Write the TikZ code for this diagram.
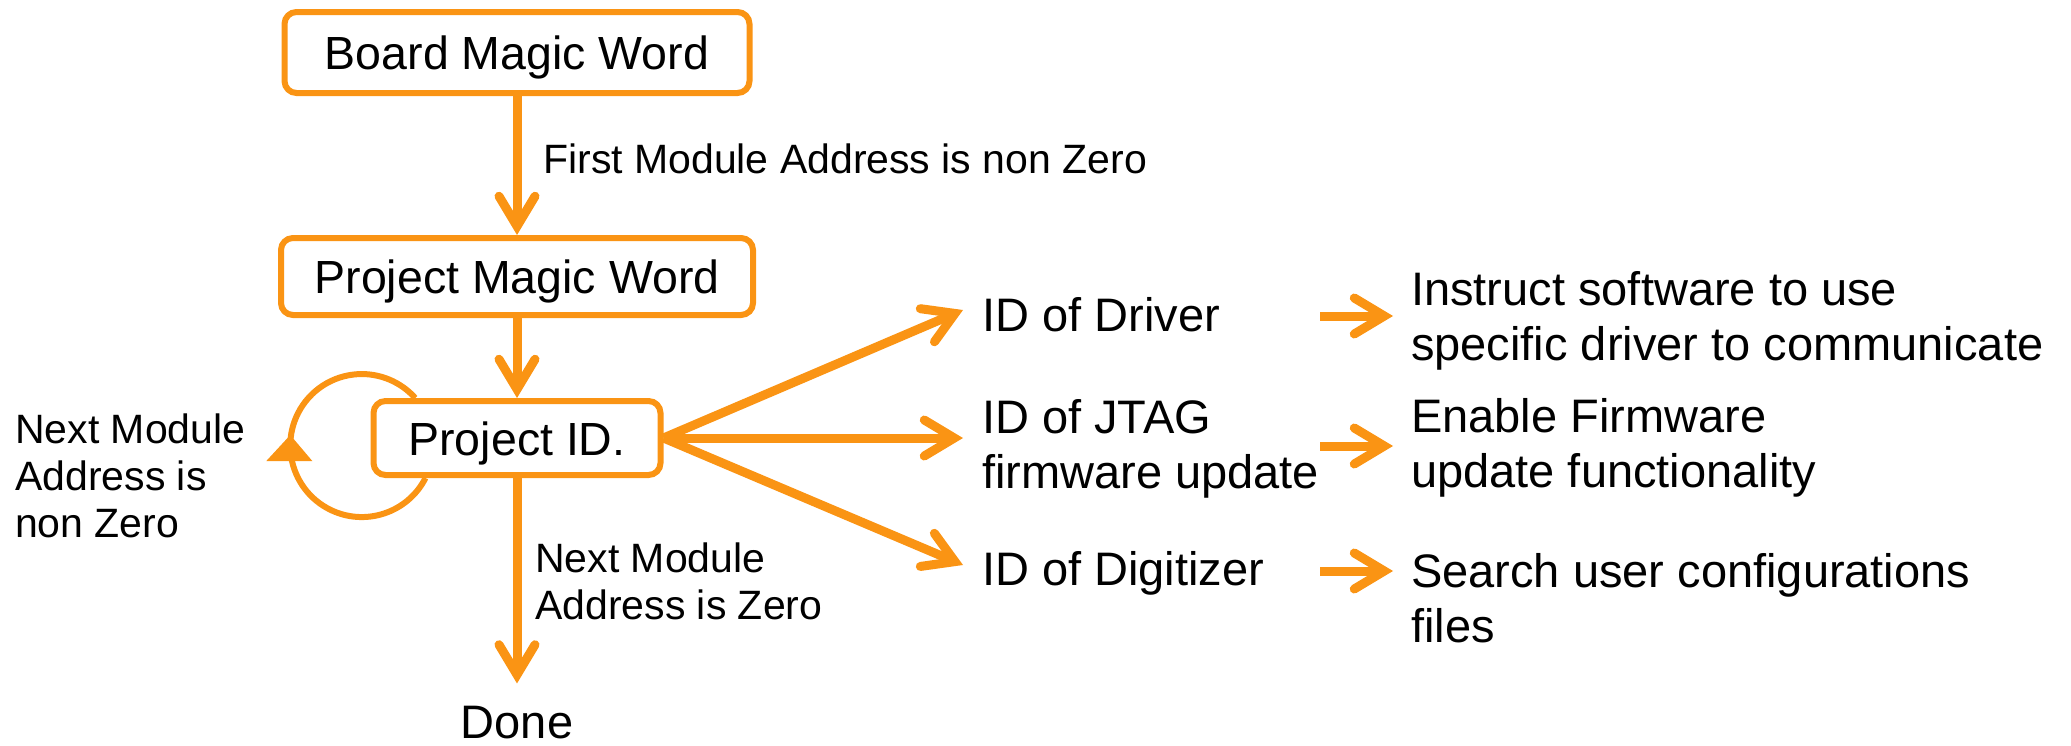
\documentclass[tikz,border=0pt]{standalone}
\usepackage{fontspec}
\setmainfont{Liberation Sans}
\usetikzlibrary{arrows.meta}
\definecolor{flow}{RGB}{250,148,20}
\tikzset{
  box/.style={draw=flow, line width=6pt, rounded corners=12pt, fill=white,
    inner sep=0pt, text height=34pt, text depth=0pt,
    font=\fontsize{46.5}{55}\selectfont},
  txt/.style={inner sep=0pt, align=left, font=\fontsize{47}{55}\selectfont},
  lbl/.style={inner sep=0pt, align=left, font=\fontsize{41}{47}\selectfont},
  arr/.style={draw=flow, line width=9pt,
    -{Straight Barb[length=30pt,width=36pt,line cap=round]}},
  loopline/.style={draw=flow, line width=6pt}
}
\begin{document}
\begin{tikzpicture}[x=1pt,y=-1pt]
\useasboundingbox (0,0) rectangle (2071,745);

% main chain of boxes
\node[box, minimum width=465pt, minimum height=81pt] (board) at (517,52.5) {Board Magic Word};
\node[box, minimum width=472pt, minimum height=77pt] (pmw) at (517,276.5) {Project Magic Word};
\node[box, minimum width=287pt, minimum height=74pt] (pid) at (517,438) {Project ID.};

% labels (multi-line nodes sit on the baseline of their last line)
\node[lbl, anchor=base west] (first) at (543,173) {First Module Address is non Zero};
\node[lbl, anchor=base west] (loopLbl) at (15,537) {Next Module\\Address is\\non Zero};
\node[lbl, anchor=base west] (zeroLbl) at (535,619) {Next Module\\Address is Zero};
\node[txt, anchor=base] (done) at (517,738) {Done};

% identifiers and actions
\node[txt, anchor=base west] (drv) at (982,331) {ID of Driver};
\node[txt, anchor=base west] (jtag) at (982,488) {ID of JTAG\\firmware update};
\node[txt, anchor=base west] (dig) at (982,585) {ID of Digitizer};
\node[txt, anchor=base west] (instr) at (1411,360) {Instruct software to use\\specific driver to communicate};
\node[txt, anchor=base west] (enable) at (1411,487) {Enable Firmware\\update functionality};
\node[txt, anchor=base west] (search) at (1411,642) {Search user configurations\\files};

% arrow end points
\coordinate (tDrv) at (963,310);
\coordinate (tJtag) at (963,438);
\coordinate (tDig) at (963,565);
\coordinate (sDrv) at (1320,316);
\coordinate (eDrv) at (1393,316);
\coordinate (sJtag) at (1320,446);
\coordinate (eJtag) at (1393,446);
\coordinate (sDig) at (1320,571);
\coordinate (eDig) at (1393,571);

% vertical flow
\draw[arr] (board.south) -- (pmw.north);
\draw[arr] (pmw.south) -- (pid.north);
\draw[arr, shorten >=22pt] (pid.south) -- (done.north);

% self loop on the project id, with its arrowhead at the leftmost point
\coordinate (loopS) at ([xshift=55pt]pid.south west);
\coordinate (loopC) at ([shift={(-63.7,-32.5)}]loopS);
\draw[loopline] (loopS) arc[start angle=27, end angle=318.4, radius=71.5];
\fill[flow] ([shift={(-71.5,-10.5)}]loopC) -- ([shift={(-95.5,15.5)}]loopC)
  -- ([shift={(-49.5,15.5)}]loopC) -- cycle;

% fan out
\draw[arr] (pid.east) -- (tDrv);
\draw[arr] (pid.east) -- (tJtag);
\draw[arr] (pid.east) -- (tDig);

% actions
\draw[arr] (sDrv) -- (eDrv);
\draw[arr] (sJtag) -- (eJtag);
\draw[arr] (sDig) -- (eDig);
\end{tikzpicture}
\end{document}
